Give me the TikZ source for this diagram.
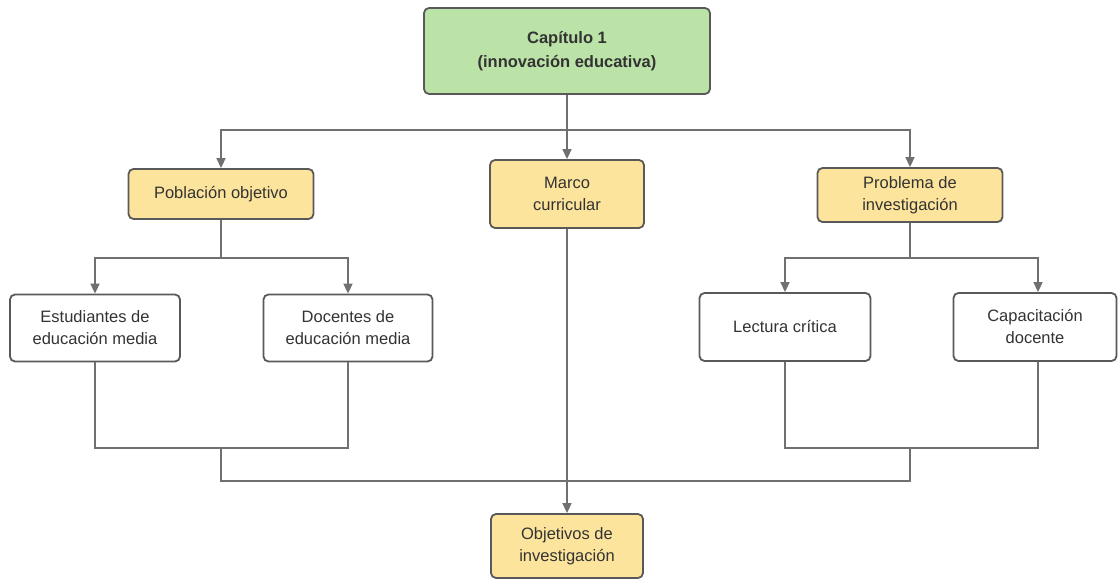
\documentclass[tikz,border=0pt]{standalone}
\usepackage{fontspec}
\setmainfont{Liberation Sans}
\usetikzlibrary{arrows.meta}
\definecolor{boxline}{HTML}{595959}
\definecolor{wire}{HTML}{707070}
\definecolor{greenfill}{HTML}{BCE3A7}
\definecolor{yellowfill}{HTML}{FCE49C}
\begin{document}
\begin{tikzpicture}[x=1pt,y=-1pt,
  base/.style={draw=boxline, line width=1.8pt, rounded corners=5pt, align=center,
    inner sep=0pt, font=\fontsize{16.5}{22}\selectfont, text=black!80},
  headbox/.style={base, fill=greenfill, font=\fontsize{16.5}{24}\selectfont\bfseries},
  keybox/.style={base, fill=yellowfill},
  leafbox/.style={base, fill=white},
  wireline/.style={draw=wire, line width=1.6pt},
  arr/.style={wireline, -{Triangle[length=10pt,width=9pt]}, color=wire}
]
\useasboundingbox (0,0) rectangle (1118,580);

% boxes
\node[headbox, minimum width=286, minimum height=86] (cap) at (567,51) {Capítulo 1\\(innovación educativa)};
\node[keybox, minimum width=185, minimum height=50] (pob) at (221,194) {Población objetivo};
\node[keybox, minimum width=154, minimum height=68] (marco) at (567,194) {Marco\\curricular};
\node[keybox, minimum width=185, minimum height=54] (prob) at (910,195) {Problema de\\investigación};
\node[leafbox, minimum width=170, minimum height=67] (est) at (95,328) {Estudiantes de\\educación media};
\node[leafbox, minimum width=169, minimum height=67] (doc) at (348,328) {Docentes de\\educación media};
\node[leafbox, minimum width=171, minimum height=68] (lec) at (785,327) {Lectura crítica};
\node[leafbox, minimum width=163, minimum height=68] (capd) at (1035,327) {Capacitación\\docente};
\node[keybox, minimum width=152, minimum height=64] (obj) at (567,546) {Objetivos de\\investigación};

% junction points
\coordinate (top) at (567,130);
\coordinate (pl) at (221,258);
\coordinate (pr) at (910,258);
\coordinate (jl) at (221,448);
\coordinate (jr) at (910,448);
\coordinate (jb) at (567,481);

% branches from the chapter box
\draw[arr] (cap) -- (marco);
\draw[arr] (top) -| (pob);
\draw[arr] (top) -| (prob);

% target population and research problem
\draw[wireline] (pob) -- (pl);
\draw[arr] (pl) -| (est);
\draw[arr] (pl) -| (doc);
\draw[wireline] (prob) -- (pr);
\draw[arr] (pr) -| (lec);
\draw[arr] (pr) -| (capd.north -| 1038,0);

% joining back towards the objectives
\draw[wireline] (est) |- (jl) -| (doc);
\draw[wireline] (lec) |- (jr) -| (capd.south -| 1038,0);
\draw[wireline] (jl) |- (jb) -| (jr);
\draw[arr] (marco) -- (obj);
\end{tikzpicture}
\end{document}
